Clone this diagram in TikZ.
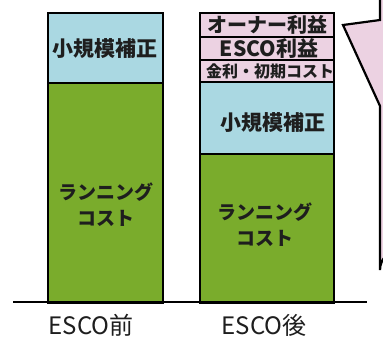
\documentclass[tikz,border=0pt]{standalone}
\usepackage{fontspec}
\setmainfont{Noto Sans CJK JP}
\definecolor{segblue}{RGB}{170,216,226}
\definecolor{seggreen}{RGB}{122,172,44}
\definecolor{segpink}{RGB}{236,210,226}
\definecolor{txt}{RGB}{30,30,30}
\begin{document}
\begin{tikzpicture}[x=1pt,y=-1pt,
  seg/.style={draw=black,line width=2.4pt,rectangle,inner sep=0pt,anchor=north west},
  lbl/.style={text=txt,inner sep=0pt,align=center},
  fs/.style={font=\fontsize{#1}{#1}\selectfont\bfseries},
  fr/.style={font=\fontsize{#1}{#1}\selectfont}]
\useasboundingbox (0,0) rectangle (383,338);
\clip (0,0) rectangle (383,338);
% callout
\draw[fill=segpink,line width=2.2pt,line join=miter]
  (380,-10) -- (380,20) -- (343,25) -- (380,106) -- (380,270)
  arc[start angle=180,end angle=270,radius=20] -- (400,290) -- (400,-10) -- cycle;
% left bar
\node[seg,fill=seggreen,minimum width=115pt,minimum height=220pt] (lg) at (47,82) {};
\node[seg,fill=segblue,minimum width=115pt,minimum height=70pt] (lb) at (47,12) {};
% right bar
\node[seg,fill=seggreen,minimum width=134pt,minimum height=149pt] (rg) at (199,153) {};
\node[seg,fill=segblue,minimum width=134pt,minimum height=72pt] (rb) at (199,81) {};
\node[seg,fill=segpink,minimum width=134pt,minimum height=22pt] (rp3) at (199,59) {};
\node[seg,fill=segpink,minimum width=134pt,minimum height=23pt] (rp2) at (199,36) {};
\node[seg,fill=segpink,minimum width=134pt,minimum height=24pt] (rp1) at (199,12) {};
% baseline
\coordinate (bl) at (13,302);
\coordinate (br) at (367,302);
\draw[line width=2.6pt] (bl) -- (br);
% texts
\node[lbl,fs=21] (t1) at (105,49) {小規模補正};
\node[lbl,fs=19] (t2) at (106,192) {ランニング};
\node[lbl,fs=19] (t3) at (106,218) {コスト};
\node[lbl,fs=21] (t4) at (273,123) {小規模補正};
\node[lbl,fs=19] (t5) at (265,212) {ランニング};
\node[lbl,fs=19] (t6) at (265,238) {コスト};
\node[lbl,fs=20] (t7) at (267,25) {オーナー利益};
\node[lbl,fs=21] (t8) at (269,49) {ESCO利益};
\node[lbl,fs=16] (t9) at (270,71) {金利・初期コスト};
\node[lbl,fr=24] (x1) at (91,325) {ESCO前};
\node[lbl,fr=24] (x2) at (264,325) {ESCO後};
\end{tikzpicture}
\end{document}
